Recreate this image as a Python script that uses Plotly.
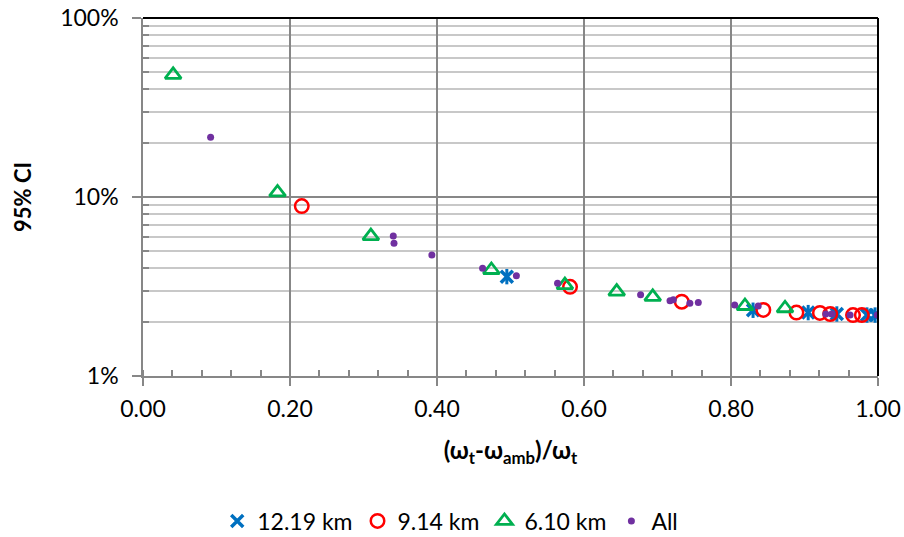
import plotly.graph_objects as go

# ---- data ----
x_1219 = [0.495, 0.830, 0.905, 0.944, 0.985, 0.996]
ci_1219 = [3.59, 2.33, 2.26, 2.22, 2.19, 2.19]

x_914 = [0.216, 0.581, 0.733, 0.844, 0.889, 0.921, 0.935, 0.966, 0.978]
ci_914 = [8.9, 3.15, 2.60, 2.34, 2.26, 2.25, 2.22, 2.19, 2.19]

x_610 = [0.041, 0.183, 0.310, 0.474, 0.574, 0.6445, 0.6935, 0.819, 0.8735]
ci_610 = [48.1, 10.6, 6.05, 3.91, 3.22, 2.96, 2.77, 2.46, 2.39]

x_all = [0.092, 0.3405, 0.3415, 0.393, 0.462, 0.508, 0.564, 0.677, 0.717,
         0.7215, 0.744, 0.7555, 0.805, 0.837, 0.929, 0.937, 0.962, 0.999]
ci_all = [21.6, 6.05, 5.51, 4.74, 4.00, 3.63, 3.30, 2.84, 2.63,
          2.67, 2.55, 2.57, 2.49, 2.46, 2.22, 2.22, 2.19, 2.19]

series_names = ["12.19 km", "9.14 km", "6.10 km", "All"]
x_ticks = [0.0, 0.2, 0.4, 0.6, 0.8, 1.0]
y_ticks = [0.01, 0.1, 1.0]
y_ticktext = ["1%", "10%", "100%"]

def frac(v):
    return [p / 100.0 for p in v]

FONT = "Lato"
BLUE, RED, GREEN, PURPLE = "#0070C0", "#FF0000", "#00B050", "#7030A0"

fig = go.Figure()
# 12.19 km : star marker (X + vertical bar)
fig.add_trace(go.Scatter(
    x=x_1219, y=frac(ci_1219), mode="markers", name=series_names[0],
    legendgroup="a",
    marker=dict(symbol="x-thin-open", size=12, color=BLUE, line=dict(color=BLUE, width=3.5))))
fig.add_trace(go.Scatter(
    x=x_1219, y=frac(ci_1219), mode="markers", name=series_names[0],
    legendgroup="a", showlegend=False, hoverinfo="skip",
    marker=dict(symbol="line-ns-open", size=11, color=BLUE, line=dict(color=BLUE, width=3))))
fig.add_trace(go.Scatter(
    x=x_914, y=frac(ci_914), mode="markers", name=series_names[1],
    marker=dict(symbol="circle-open", size=13.5, color=RED, line=dict(color=RED, width=2.5))))
fig.add_trace(go.Scatter(
    x=x_610, y=frac(ci_610), mode="markers", name=series_names[2],
    marker=dict(symbol="triangle-up-open", size=14, color=GREEN, line=dict(color=GREEN, width=2.8))))
fig.add_trace(go.Scatter(
    x=x_all, y=frac(ci_all), mode="markers", name=series_names[3],
    marker=dict(symbol="circle", size=7, color=PURPLE)))

minor_y = [m * 10 ** e for e in (-2, -1) for m in range(2, 10)]

fig.update_layout(
    width=904, height=537,
    margin=dict(l=143, r=26, t=18, b=161, autoexpand=False),
    paper_bgcolor="white", plot_bgcolor="white",
    font=dict(family=FONT, size=23, color="#000000"),
    showlegend=True,
    legend=dict(orientation="h", x=0.418, xanchor="center", y=-0.405, yanchor="middle",
                font=dict(family=FONT, size=23, color="#000000"),
                itemsizing="trace", tracegroupgap=0, itemwidth=30),
    xaxis=dict(
        range=[0, 1], tickvals=x_ticks, tickformat=".2f", automargin=False,
        showgrid=True, gridcolor="#878787", gridwidth=1.5,
        showline=True, linecolor="#878787", linewidth=1.5,
        ticks="outside", ticklen=8, tickcolor="#878787", tickwidth=1.5,
        ticklabelstandoff=4,
        tickfont=dict(family=FONT, size=23, color="#000000"),
        zeroline=False,
        minor=dict(dtick=0.04, ticks="inside", ticklen=6, tickcolor="#878787",
                   tickwidth=1.5, showgrid=False),
        title=dict(text="<b>(ω<sub>t</sub>-ω<sub>amb</sub>)/ω<sub>t</sub></b>",
                   font=dict(family=FONT, size=24, color="#000000"), standoff=21),
    ),
    yaxis=dict(
        type="log", range=[-2, 0], tickvals=y_ticks, ticktext=y_ticktext, automargin=False,
        showgrid=True, gridcolor="#878787", gridwidth=1.5,
        showline=True, linecolor="#878787", linewidth=1.5,
        ticks="outside", ticklen=9, tickcolor="#878787", tickwidth=1.5,
        ticklabelstandoff=9,
        tickfont=dict(family=FONT, size=23, color="#000000"),
        zeroline=False,
        minor=dict(tickvals=minor_y, ticks="inside", ticklen=6, tickcolor="#878787",
                   tickwidth=1.5, showgrid=True, gridcolor="#C8C8C8", gridwidth=1.5),
        title=dict(text="<b>95% CI</b>", font=dict(family=FONT, size=22, color="#000000"),
                   standoff=22),
    ),
)

# plot-area border on top and right (black)
fig.add_shape(type="line", xref="x domain", yref="y domain", x0=0, x1=1, y0=1, y1=1,
              line=dict(color="#000000", width=2), layer="above")
fig.add_shape(type="line", xref="x domain", yref="y domain", x0=1, x1=1, y0=0, y1=1,
              line=dict(color="#000000", width=2), layer="above")

fig.write_html("out.html")
